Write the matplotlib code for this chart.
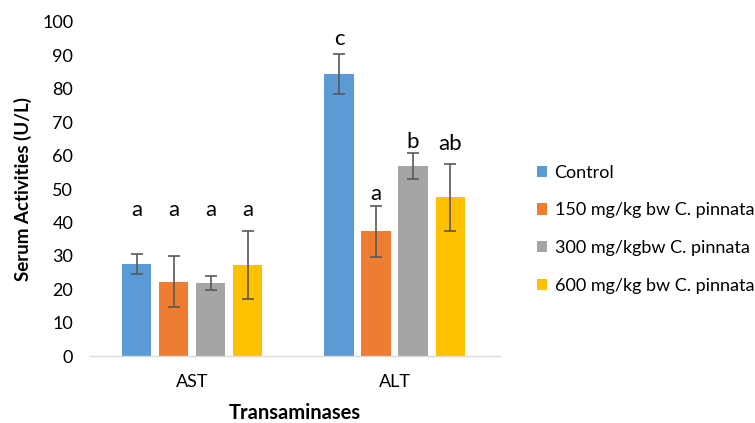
import numpy as np
from matplotlib import pyplot as plt

plt.rcParams['font.family'] = ['Lato', 'DejaVu Sans']

# 血清转氨酶活性数据
categories = ['AST', 'ALT']
groups = ['Control', '150 mg/kg bw C. pinnata', '300 mg/kgbw C. pinnata', '600 mg/kg bw C. pinnata']
means = {
    'Control': [27.5, 84.5],
    '150 mg/kg bw C. pinnata': [22.3, 37.4],
    '300 mg/kgbw C. pinnata': [21.9, 56.9],
    '600 mg/kg bw C. pinnata': [27.2, 47.5],
}
errors = {
    'Control': [3.0, 6.0],
    '150 mg/kg bw C. pinnata': [7.6, 7.6],
    '300 mg/kgbw C. pinnata': [2.0, 4.0],
    '600 mg/kg bw C. pinnata': [10.2, 10.1],
}
letters = {
    'Control': ['a', 'c'],
    '150 mg/kg bw C. pinnata': ['a', 'a'],
    '300 mg/kgbw C. pinnata': ['a', 'b'],
    '600 mg/kg bw C. pinnata': ['a', 'ab'],
}
letter_y = {
    'Control': [43.7, 95.0],
    '150 mg/kg bw C. pinnata': [43.7, 48.5],
    '300 mg/kgbw C. pinnata': [43.7, 64.0],
    '600 mg/kg bw C. pinnata': [43.7, 63.5],
}
colors = ['#5B9BD5', '#ED7D31', '#A5A5A5', '#FFC000']

fig = plt.figure(figsize=(7.55, 4.23), dpi=100)
ax = fig.add_axes([0.119, 0.158, 0.543, 0.79])

x = np.arange(len(categories))
width = 0.144
step = 0.183
for i, g in enumerate(groups):
    pos = x + (i - 1.5) * step
    ax.bar(pos, means[g], width, color=colors[i], label=g, zorder=2)
    ax.errorbar(pos, means[g], yerr=errors[g], fmt='none', ecolor='#595959',
                elinewidth=1.2, capsize=4, capthick=1.2, zorder=3)
    for xp, yp, t in zip(pos, letter_y[g], letters[g]):
        ax.text(xp, yp, t, ha='center', va='center', fontsize=16, color='#000000')

ax.set_xlim(-0.505, 1.52)
ax.set_ylim(0, 100)
ax.set_yticks(range(0, 101, 10))
ax.set_xticks(x)
ax.set_xticklabels(categories)
ax.tick_params(axis='both', length=0, labelsize=13, colors='#000000')
ax.tick_params(axis='x', pad=13)
ax.tick_params(axis='y', pad=12)

for s in ['top', 'right', 'left']:
    ax.spines[s].set_visible(False)
ax.spines['bottom'].set_color('#d9d9d9')
ax.spines['bottom'].set_linewidth(1)

ax.set_xlabel('Transaminases', fontsize=14.5, fontweight='bold', labelpad=9)
ax.set_ylabel('Serum Activities (U/L)', fontsize=13.5, fontweight='bold', labelpad=7)

ax.legend(loc='center left', bbox_to_anchor=(1.05, 0.38), frameon=False,
          fontsize=13, handlelength=0.6, handleheight=0.6, handletextpad=0.4,
          labelspacing=1.2)

plt.savefig('out.png', dpi=100)
